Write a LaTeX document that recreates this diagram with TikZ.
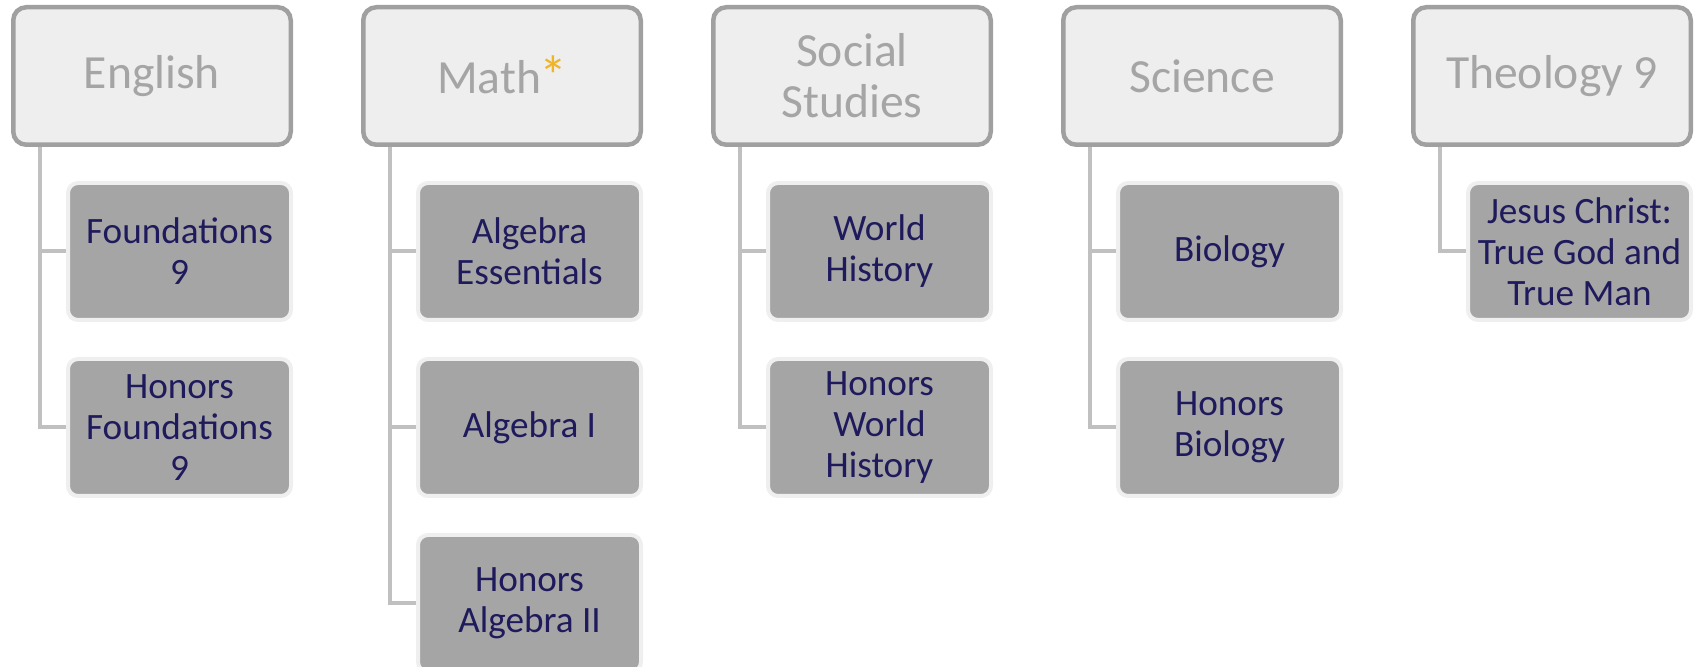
\documentclass[tikz,border=0pt]{standalone}
\usepackage{fontspec}
\setmainfont{Carlito}
\usetikzlibrary{positioning}
\definecolor{headfill}{HTML}{EEEEEE}
\definecolor{headline}{HTML}{A0A0A0}
\definecolor{headtext}{HTML}{A5A5A5}
\definecolor{coursefill}{HTML}{A5A5A5}
\definecolor{courseline}{HTML}{EFEFEF}
\definecolor{coursetext}{HTML}{1F1A5C}
\definecolor{linkgray}{HTML}{C0C0C0}
\definecolor{star}{HTML}{F0B429}
\tikzset{
 head/.style={shape=rectangle,rounded corners=6.5pt,draw=headline,fill=headfill,line width=2.25pt,minimum width=138.75pt,minimum height=68.75pt,inner sep=0pt,align=center,text=headtext,font=\fontsize{23.8}{25.5}\selectfont},
 course/.style={shape=rectangle,rounded corners=5pt,draw=courseline,fill=coursefill,line width=2pt,minimum width=111.5pt,minimum height=68.5pt,inner sep=0pt,align=center,text=coursetext,font=\fontsize{18.6}{20.5}\selectfont},
 link/.style={draw=linkgray,line width=2pt}
}
\begin{document}
\begin{tikzpicture}
 \useasboundingbox (0,0) rectangle (847pt,-333.5pt);

 \node[head,anchor=north west] (eng) at (5.5pt,-2.5pt) {English};
 \node[head] (math) [right=34pt of eng] {Math\kern-1pt\raisebox{-1pt}{\textcolor{star}{\fontsize{28}{25.5}\selectfont*}}};
 \node[head] (soc) [right=34pt of math] {Social\\Studies};
 \node[head] (sci) [right=34pt of soc] {Science};
 \node[head] (theo) [right=34pt of sci] {Theology 9};

 \node[course] (eng1) [below left=17pt and 0pt of eng.south east] {Foundations\\9};
 \node[course] (eng2) [below=17.5pt of eng1] {Honors\\Foundations\\9};
 \node[course] (math1) [below left=17pt and 0pt of math.south east] {Algebra\\Essentials};
 \node[course] (math2) [below=17.5pt of math1] {Algebra I};
 \node[course] (math3) [below=17.5pt of math2] {Honors\\Algebra II};
 \node[course] (soc1) [below left=17pt and 0pt of soc.south east] {World\\History};
 \node[course] (soc2) [below=17.5pt of soc1] {Honors\\World\\History};
 \node[course] (sci1) [below left=17pt and 0pt of sci.south east] {Biology};
 \node[course] (sci2) [below=17.5pt of sci1] {Honors\\Biology};
 \node[course] (theo1) [below left=17pt and 0pt of theo.south east] {Jesus Christ:\\True God and\\True Man};

 \draw[link] ([xshift=14.5pt]eng.south west) |- (eng2.west);
 \draw[link] ([xshift=14.5pt]eng.south west) |- (eng1.west);
 \draw[link] ([xshift=14.5pt]math.south west) |- (math3.west);
 \draw[link] ([xshift=14.5pt]math.south west) |- (math2.west);
 \draw[link] ([xshift=14.5pt]math.south west) |- (math1.west);
 \draw[link] ([xshift=14.5pt]soc.south west) |- (soc2.west);
 \draw[link] ([xshift=14.5pt]soc.south west) |- (soc1.west);
 \draw[link] ([xshift=14.5pt]sci.south west) |- (sci2.west);
 \draw[link] ([xshift=14.5pt]sci.south west) |- (sci1.west);
 \draw[link] ([xshift=14.5pt]theo.south west) |- (theo1.west);
\end{tikzpicture}
\end{document}
